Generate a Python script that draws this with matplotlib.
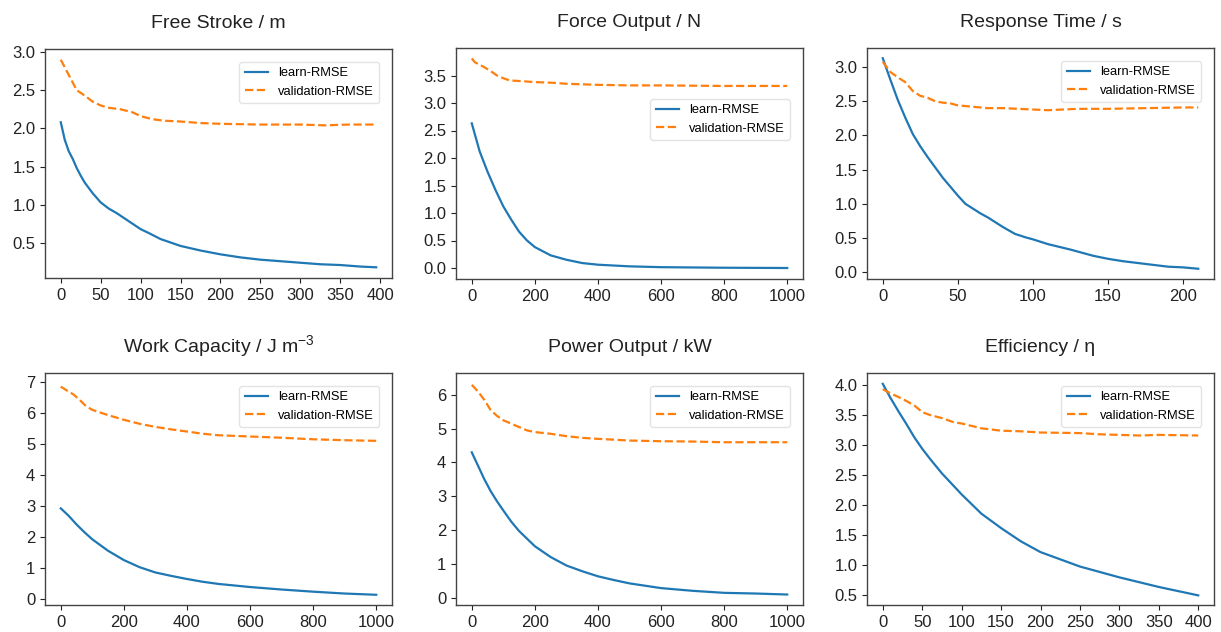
import matplotlib
matplotlib.use("Agg")
import matplotlib.pyplot as plt

plt.rcParams['font.family'] = ['Liberation Sans', 'DejaVu Sans']

# ---------------- data ----------------
titles = ["Free Stroke / m", "Force Output / N", "Response Time / s",
          "Work Capacity / J m$^{\\mathregular{-3}}$", "Power Output / kW", "Efficiency / η"]

fs_x = [0, 5, 10, 15, 20, 25, 30, 40, 50, 60, 70, 80, 90, 100, 110, 125, 150, 175, 200, 225, 250, 275, 300, 325, 350, 375, 395]
fs_learn = [2.08, 1.85, 1.70, 1.60, 1.48, 1.38, 1.29, 1.15, 1.03, 0.95, 0.89, 0.82, 0.75, 0.68, 0.63, 0.55, 0.46, 0.40, 0.35, 0.31, 0.28, 0.26, 0.24, 0.22, 0.21, 0.19, 0.18]
fs_vx = [0, 10, 20, 30, 40, 50, 60, 75, 90, 100, 115, 130, 150, 175, 200, 250, 300, 330, 360, 395]
fs_val = [2.90, 2.70, 2.50, 2.43, 2.35, 2.30, 2.27, 2.25, 2.21, 2.16, 2.12, 2.10, 2.09, 2.07, 2.06, 2.05, 2.05, 2.04, 2.05, 2.05]

fo_x = [0, 25, 50, 75, 100, 125, 150, 175, 200, 250, 300, 350, 400, 500, 600, 700, 800, 1000]
fo_learn = [2.63, 2.12, 1.75, 1.42, 1.12, 0.88, 0.66, 0.50, 0.38, 0.23, 0.15, 0.09, 0.06, 0.03, 0.015, 0.01, 0.005, 0.0]
fo_vx = [0, 10, 20, 40, 60, 80, 100, 120, 150, 200, 250, 300, 400, 500, 600, 800, 1000]
fo_val = [3.81, 3.74, 3.71, 3.65, 3.58, 3.50, 3.45, 3.41, 3.40, 3.38, 3.37, 3.35, 3.33, 3.32, 3.32, 3.31, 3.31]

rt_x = [0, 5, 10, 15, 20, 25, 30, 35, 40, 45, 50, 55, 60, 65, 70, 75, 80, 88, 95, 100, 110, 125, 140, 150, 160, 175, 190, 200, 210]
rt_learn = [3.13, 2.82, 2.52, 2.26, 2.02, 1.84, 1.68, 1.53, 1.38, 1.25, 1.12, 1.00, 0.93, 0.86, 0.80, 0.73, 0.66, 0.56, 0.51, 0.48, 0.41, 0.33, 0.24, 0.195, 0.16, 0.12, 0.08, 0.07, 0.05]
rt_vx = [0, 5, 10, 15, 20, 25, 30, 35, 40, 45, 50, 60, 70, 80, 90, 100, 110, 120, 130, 150, 175, 200, 210]
rt_val = [3.08, 2.93, 2.85, 2.78, 2.65, 2.58, 2.55, 2.50, 2.48, 2.47, 2.44, 2.42, 2.40, 2.40, 2.39, 2.38, 2.37, 2.38, 2.39, 2.39, 2.40, 2.41, 2.41]

wc_x = [0, 25, 50, 75, 100, 150, 200, 250, 300, 350, 400, 450, 500, 600, 700, 800, 900, 1000]
wc_learn = [2.92, 2.68, 2.40, 2.15, 1.92, 1.55, 1.25, 1.02, 0.85, 0.74, 0.64, 0.55, 0.48, 0.38, 0.30, 0.23, 0.17, 0.13]
wc_vx = [0, 20, 40, 60, 80, 100, 150, 200, 250, 300, 350, 400, 450, 500, 600, 700, 800, 900, 1000]
wc_val = [6.85, 6.72, 6.60, 6.42, 6.22, 6.10, 5.93, 5.78, 5.65, 5.55, 5.47, 5.40, 5.33, 5.28, 5.24, 5.20, 5.15, 5.12, 5.10]

po_x = [0, 20, 40, 60, 80, 100, 125, 150, 200, 250, 300, 350, 400, 450, 500, 600, 700, 800, 900, 1000]
po_learn = [4.30, 3.90, 3.50, 3.15, 2.85, 2.58, 2.25, 1.97, 1.52, 1.20, 0.95, 0.78, 0.63, 0.52, 0.42, 0.28, 0.20, 0.14, 0.12, 0.09]
po_vx = [0, 20, 40, 60, 80, 100, 125, 150, 175, 200, 250, 300, 350, 400, 500, 600, 700, 800, 1000]
po_val = [6.30, 6.10, 5.85, 5.55, 5.38, 5.25, 5.15, 5.05, 4.95, 4.90, 4.85, 4.78, 4.73, 4.70, 4.65, 4.63, 4.62, 4.60, 4.60]

ef_x = [0, 10, 20, 30, 40, 50, 60, 75, 100, 125, 150, 175, 200, 225, 250, 275, 300, 325, 350, 375, 400]
ef_learn = [4.02, 3.78, 3.56, 3.35, 3.13, 2.94, 2.77, 2.53, 2.18, 1.86, 1.62, 1.40, 1.22, 1.10, 0.98, 0.89, 0.80, 0.72, 0.64, 0.57, 0.50]
ef_vx = [0, 10, 25, 40, 50, 60, 75, 90, 100, 125, 150, 175, 200, 250, 275, 300, 325, 350, 400]
ef_val = [3.93, 3.86, 3.77, 3.66, 3.55, 3.50, 3.45, 3.38, 3.36, 3.28, 3.24, 3.23, 3.21, 3.20, 3.18, 3.17, 3.16, 3.17, 3.16]

series = [
    (fs_x, fs_learn, fs_vx, fs_val),
    (fo_x, fo_learn, fo_vx, fo_val),
    (rt_x, rt_learn, rt_vx, rt_val),
    (wc_x, wc_learn, wc_vx, wc_val),
    (po_x, po_learn, po_vx, po_val),
    (ef_x, ef_learn, ef_vx, ef_val),
]

# ---------------- layout ----------------
W, H = 1221, 632
boxes = [(45, 49, 392, 278), (456, 48, 803, 279), (867, 48, 1214, 279),
         (45, 373, 392, 605), (456, 373, 803, 605), (867, 373, 1214, 605)]
ylims = [(0.04, 3.04), (-0.2, 4.0), (-0.1, 3.28), (-0.2, 7.29), (-0.22, 6.65), (0.34, 4.2)]
yticks = [[0.5, 1.0, 1.5, 2.0, 2.5, 3.0], [0.0, 0.5, 1.0, 1.5, 2.0, 2.5, 3.0, 3.5],
          [0.0, 0.5, 1.0, 1.5, 2.0, 2.5, 3.0], [0, 1, 2, 3, 4, 5, 6, 7],
          [0, 1, 2, 3, 4, 5, 6], [0.5, 1.0, 1.5, 2.0, 2.5, 3.0, 3.5, 4.0]]
xticks = [[0, 50, 100, 150, 200, 250, 300, 350, 400], [0, 200, 400, 600, 800, 1000],
          [0, 50, 100, 150, 200], [0, 200, 400, 600, 800, 1000],
          [0, 200, 400, 600, 800, 1000], [0, 50, 100, 150, 200, 250, 300, 350, 400]]
pads = [15, 15, 15, 14, 15, 15]
leg_anchor = [(1, 1), (1, 0.835), (1, 1), (1, 1), (1, 1), (1, 1)]

fig = plt.figure(figsize=(W / 100, H / 100), dpi=100)
for i, (l, t, r, b) in enumerate(boxes):
    ax = fig.add_axes([l / W, (H - b) / H, (r - l) / W, (b - t) / H])
    x, yl, vx, yv = series[i]
    ax.plot(x, yl, color='#1f77b4', lw=1.6, label='learn-RMSE')
    ax.plot(vx, yv, color='#ff7f0e', lw=1.6, ls='--', label='validation-RMSE')
    ax.margins(x=0.05)
    ax.set_ylim(*ylims[i])
    ax.set_yticks(yticks[i])
    ax.set_xticks(xticks[i])
    if i in (3, 4):
        ax.set_yticklabels([str(v) for v in yticks[i]])
    ax.tick_params(labelsize=12, colors='#222222', length=3.5, width=0.8)
    for s in ax.spines.values():
        s.set_color('#444444')
        s.set_linewidth(1.0)
    ax.set_title(titles[i], fontsize=14, pad=pads[i], color='#222222')
    leg = ax.legend(loc='upper right', bbox_to_anchor=leg_anchor[i], fontsize=9.3,
                    handlelength=1.8, borderaxespad=1.0)
    leg.get_frame().set_edgecolor('#dddddd')

fig.savefig('out.png', dpi=100)
